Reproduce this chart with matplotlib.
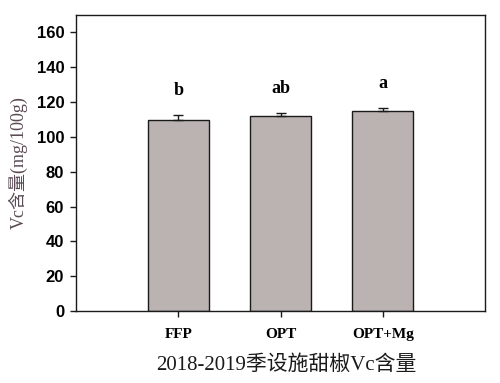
import numpy as np
import matplotlib.pyplot as plt

plt.rcParams['font.family'] = ['Liberation Serif', 'Noto Sans CJK SC']

treatments = ['FFP', 'OPT', 'OPT+Mg']
vc_mean = [109.5, 111.7, 114.9]
vc_err = [2.9, 1.9, 1.7]
letters = ['b', 'ab', 'a']

fig = plt.figure(figsize=(5.00, 3.83), dpi=100)
ax = fig.add_axes([0.152, 0.188, 0.818, 0.773])

x = np.arange(1, len(treatments) + 1)
ax.bar(x, vc_mean, width=0.6, color='#bab3b1', edgecolor='#1a1a1a', linewidth=1.0,
       yerr=[[0] * len(vc_err), vc_err],
       error_kw=dict(ecolor='#1a1a1a', elinewidth=1.0, capsize=3.5, capthick=1.0))

for xi, m, e, t in zip(x, vc_mean, vc_err, letters):
    ax.text(xi, m + e + 14, t, ha='center', va='center', fontsize=13, fontweight='bold',
            family=['Liberation Serif'])

ax.set_xlim(0, 4)
ax.set_ylim(0, 170)
ax.set_yticks(np.arange(0, 161, 20))
ax.set_xticks(x)
ax.set_xticklabels(treatments, fontsize=11, fontweight='bold', family=['Liberation Serif'])
for lab in ax.get_yticklabels():
    lab.set_family(['Liberation Sans'])
    lab.set_fontweight('bold')
    lab.set_fontsize(12)
ax.tick_params(axis='both', direction='out', length=4, width=1, color='#1a1a1a', pad=4.5)
ax.tick_params(axis='x', pad=8)
for s in ax.spines.values():
    s.set_linewidth(1.0)
    s.set_color('#1a1a1a')

ax.set_ylabel('Vc含量(mg/100g)', fontsize=13, color='#5a4a55', labelpad=6)
fig.text(0.572, 0.047, '2018-2019季设施甜椒Vc含量', ha='center', va='center', fontsize=15,
         color='#1a1a1a')

fig.savefig('out.png', dpi=100)
